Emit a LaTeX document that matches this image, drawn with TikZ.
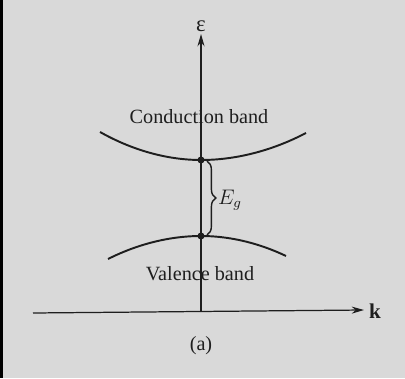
\documentclass[tikz,border=0pt]{standalone}
\usepackage{amsmath,amssymb}
\usepackage{fontspec}
\setmainfont{Liberation Serif}
\usetikzlibrary{arrows.meta, positioning, decorations.pathreplacing}

\definecolor{paper}{RGB}{217,217,217}
\definecolor{ink}{RGB}{30,30,30}

\begin{document}
\begin{tikzpicture}[>={Stealth[length=7pt,width=4pt]}, x=0.02cm, y=-0.02cm,
      axis/.style={draw=ink, line width=0.7pt},
      band/.style={draw=ink, line width=1.1pt},
      dot/.style={circle, fill=ink, minimum size=4pt, inner sep=0pt},
      lbl/.style={text=ink, font=\fontsize{11.5}{13}\selectfont, inner sep=1pt}]

    % Paper and left edge
    \fill[paper] (0,0) rectangle (405,378);
    \fill[black] (0,0) rectangle (3,378);
    \useasboundingbox (0,0) rectangle (405,378);

    % Axes
    \coordinate (kL)  at (33,313);
    \coordinate (kR)  at (364,310);
    \coordinate (org) at (201,312);
    \coordinate (eT)  at (201,34);
    \draw[axis, ->] (kL) -- (kR);
    \draw[axis, ->] (org) -- (eT);
    \node[text=ink, font=\fontsize{12}{14}\selectfont\bfseries, anchor=west, inner sep=1pt]
        (klbl) at (367,311) {k};
    \node[text=ink, font=\fontsize{13}{14}\selectfont, anchor=south, inner sep=1pt]
        (elbl) at (eT) {ε};

    % Band edges
    \node[dot] (cmin) at (201,160) {};
    \node[dot] (vmax) at (201,236) {};
    \coordinate (cL) at (100,132);
    \coordinate (cR) at (306,133);
    \coordinate (vL) at (108,259);
    \coordinate (vR) at (286,256);
    \draw[band] (cmin.center) parabola (cL);
    \draw[band] (cmin.center) parabola (cR);
    \draw[band] (vmax.center) parabola (vL);
    \draw[band] (vmax.center) parabola (vR);

    % Gap
    \coordinate (gT) at (207,161);
    \coordinate (gB) at (207,235);
    \draw[ink, line width=0.8pt, decorate, decoration={brace, amplitude=5pt}] (gT) -- (gB);
    \node[text=ink, font=\fontsize{12}{14}\selectfont, anchor=west, inner sep=1pt]
        (eg) at (216,200) {$E_g$};

    % Labels
    \node[lbl] (cb) at (199,117) {Conduction band};
    \node[lbl] (vb) at (200,274) {Valence band};
    \node[lbl] (cap) at (201,346) {(a)};

\end{tikzpicture}
\end{document}
